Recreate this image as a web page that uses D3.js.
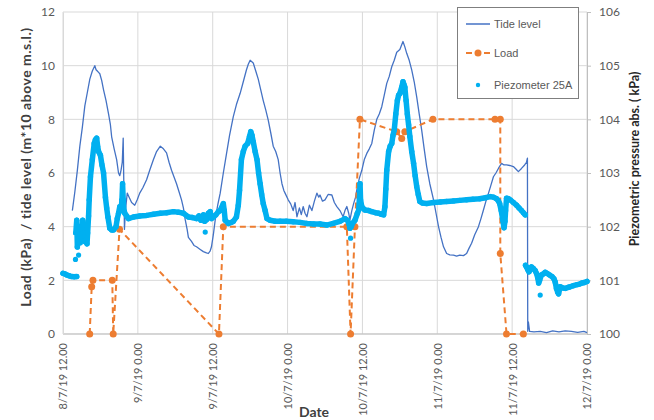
<!DOCTYPE html>
<html>
<head>
<meta charset="utf-8">
<script src="https://cdn.jsdelivr.net/npm/d3@7/dist/d3.min.js"></script>
<style>
  html, body { margin: 0; padding: 0; background: #fff; }
  svg { display: block; }
  text { font-family: Lato, "Liberation Sans", sans-serif; }
</style>
</head>
<body>
<svg id="chart" width="654" height="420"></svg>
<script>
// ---- Data (hours since 8/7/19 12.00) ----
const xTickHours = [0, 12, 24, 36, 48, 60, 72, 84];
const xTickLabels = ["8/7/19 12.00", "9/7/19 0.00", "9/7/19 12.00", "10/7/19 0.00",
                     "10/7/19 12.00", "11/7/19 0.00", "11/7/19 12.00", "12/7/19 0.00"];
const leftTicks = [0, 2, 4, 6, 8, 10, 12];
const rightTicks = [100, 101, 102, 103, 104, 105, 106];

// Tide level (m*10 above m.s.l.), left axis
const tide = [
  [1.5,4.6],[1.9,5.3],[2.3,6.1],[2.7,7.0],[3.1,7.7],[3.5,8.5],[3.9,9.0],[4.3,9.5],[4.7,9.8],
  [5.1,10.0],[5.3,9.85],[5.5,9.8],[5.7,9.75],[5.9,9.7],[6.2,9.45],[6.5,9.1],[6.9,8.7],[7.3,8.2],
  [7.6,7.8],[7.8,7.35],[8.2,6.9],[8.6,6.5],[8.9,6.0],[9.1,5.9],[9.3,6.1],[9.5,6.4],[9.65,7.3],
  [9.75,5.6],[9.85,3.9],[10.0,4.6],[10.3,5.25],[10.6,5.1],[11.0,4.9],[11.5,4.8],[11.9,5.0],
  [12.3,5.25],[12.8,5.45],[13.4,5.75],[13.9,6.1],[14.5,6.5],[15.0,6.8],[15.6,7.0],[16.1,6.9],
  [16.6,6.75],[17.0,6.4],[17.4,6.1],[17.8,5.85],[18.2,5.6],[18.6,5.3],[19.0,5.0],[19.3,4.7],
  [19.6,4.25],[19.9,3.9],[20.1,3.6],[20.6,3.45],[21.0,3.3],[21.4,3.25],[22.0,3.15],[22.5,3.07],
  [23.0,3.02],[23.3,3.0],[23.6,3.1],[23.8,3.25],[24.1,3.7],[24.4,4.25],[24.8,4.8],[25.2,5.25],
  [25.7,6.0],[26.2,6.7],[26.7,7.4],[27.3,8.1],[27.8,8.55],[28.4,8.97],[28.9,9.4],[29.4,9.84],
  [29.7,10.05],[30.0,10.2],[30.5,10.1],[30.9,9.8],[31.3,9.5],[31.7,9.1],[32.1,8.7],[32.5,8.35],
  [32.9,7.97],[33.3,7.5],[33.7,7.0],[34.1,6.8],[34.5,6.5],[34.8,6.0],[35.1,5.6],[35.4,5.35],
  [35.6,5.25],[36.1,5.0],[36.5,4.85],[36.9,4.6],[37.2,4.9],[37.5,4.37],[37.9,4.7],[38.2,4.45],
  [38.5,4.75],[38.8,4.5],[39.1,4.37],[39.5,4.8],[39.9,4.6],[40.3,4.95],[40.7,5.25],[41.0,5.1],
  [41.2,5.18],[41.6,4.95],[42.0,5.0],[42.5,5.2],[43.1,5.18],[43.5,4.9],[43.9,4.75],[44.4,4.6],
  [44.9,4.37],[45.2,4.6],[45.5,4.75],[45.8,4.5],[46.0,4.25],[46.3,4.6],[46.6,4.87],[46.9,5.1],
  [47.1,5.37],[47.5,5.8],[47.9,6.1],[48.3,6.5],[48.7,6.73],[49.1,6.9],[49.5,7.1],[49.9,7.6],
  [50.3,8.0],[50.7,8.2],[51.1,8.47],[51.5,8.9],[51.9,9.34],[52.3,9.6],[52.7,9.96],[53.1,10.2],
  [53.5,10.5],[54.0,10.6],[54.5,10.9],[54.8,10.7],[55.1,10.46],[55.5,10.2],[55.9,9.84],
  [56.3,9.4],[56.7,8.84],[57.1,8.2],[57.5,7.6],[57.9,6.9],[58.3,6.24],[58.8,5.6],[59.4,5.0],
  [59.8,4.5],[60.2,4.0],[60.6,3.6],[61.0,3.25],[61.5,3.0],[62.0,2.95],[62.6,2.94],[63.1,2.9],
  [63.6,2.94],[64.2,2.92],[64.7,3.0],[65.1,3.2],[65.5,3.38],[66.0,3.7],[66.6,4.0],[67.0,4.3],
  [67.4,4.62],[67.8,4.95],[68.2,5.24],[68.6,5.55],[69.0,5.86],[69.4,6.0],[69.8,6.17],[70.3,6.36],
  [70.7,6.3],[71.1,6.3],[71.6,6.28],[72.2,6.24],[72.6,6.15],[73.0,6.05],[73.5,6.17],[74.0,6.3],
  [74.3,6.4],[74.45,6.55],[74.5,0.1],[74.6,0.45],[74.8,0.1],[75.5,0.08],[76.5,0.1],[77.5,0.05],
  [78.5,0.12],[79.5,0.08],[80.5,0.12],[81.5,0.1],[82.5,0.06],[83.5,0.1],[84.0,0.05]
];

// Load (kPa), left axis
const load = [
  [4.28,0],[4.6,1.76],[4.8,2.0],[7.9,2.0],[8.05,0],[9.06,3.9],[25.0,0],[25.7,4.0],[45.5,4.0],
  [46.1,0],[46.8,4.0],[47.6,8.0],[53.5,7.54],[54.3,7.29],[54.8,7.54],[59.3,8.0],[69.25,8.0],
  [70.1,8.0],[70.1,3.0],[71.1,0],[73.8,0]
];

// Piezometer 25A (kPa abs.), right axis
const piezoA = [[0,101.13],[0.3,101.12],[0.6,101.10],[1.0,101.085],[1.4,101.07],[1.8,101.065],[2.2,101.07]];
const piezoB = [
  [2.05,101.88],[2.2,102.12],[2.3,101.62],[2.45,101.95],[2.6,102.0],[2.75,101.7],[2.9,101.82],
  [3.05,101.95],[3.15,102.12],[3.3,101.85],[3.4,101.88],[3.55,101.72],[3.7,101.75],[3.85,101.68],
  [3.95,101.88],[4.1,102.2],[4.2,102.5],[4.4,102.93],[4.7,103.25],[5.0,103.55],[5.2,103.62],
  [5.4,103.65],[5.55,103.5],[5.7,103.4],[6.0,103.33],[6.25,103.15],[6.5,103.0],[6.8,102.55],
  [7.0,102.35],[7.2,102.18],[7.5,101.97],[7.8,101.94],[8.1,101.94],[8.5,102.0],[8.7,102.15],
  [8.9,102.25],[9.1,102.37],[9.3,102.3],[9.45,102.5],[9.55,102.8],[9.65,102.5],[9.7,102.37],
  [9.9,102.25],[10.2,102.2],[10.5,102.15],[11.3,102.18],[12.3,102.2],[13.4,102.21],[14.5,102.23],
  [15.6,102.25],[16.6,102.26],[17.7,102.28],[18.5,102.27],[19.3,102.25],[20.1,102.18],[20.7,102.17],
  [21.4,102.15],[21.8,102.2],[22.1,102.12],[22.5,102.22],[22.7,102.1],[23.0,102.13],[23.3,102.25],
  [23.6,102.28],[23.8,102.15],[24.1,102.18],[24.5,102.22],[24.9,102.28],[25.2,102.3],[25.4,102.35],
  [25.7,102.43],[25.85,102.3],[26.0,102.12],[26.5,102.06],[27.0,102.08],[27.3,102.1],[27.8,102.18],
  [28.1,102.4],[28.3,102.68],[28.6,103.25],[28.9,103.4],[29.2,103.5],[29.6,103.55],[29.9,103.68],
  [30.1,103.77],[30.3,103.7],[30.5,103.58],[30.8,103.4],[31.1,103.25],[31.35,103.0],[31.6,102.8],
  [31.85,102.6],[32.1,102.43],[32.4,102.3],[32.7,102.15],[33.2,102.12],[34.0,102.1],[34.8,102.1],
  [35.8,102.1],[36.9,102.09],[38.0,102.08],[39.1,102.06],[40.2,102.05],[41.2,102.05],[42.3,102.03],
  [43.3,102.06],[44.4,102.1],[45.2,102.15],[45.6,102.12],[45.85,102.05],[46.0,101.97],[46.2,102.0],
  [46.4,102.06],[46.8,102.12],[47.2,102.25],[47.4,102.31],[47.55,102.6],[47.62,102.8],[47.7,102.5],
  [47.9,102.37],[48.4,102.31],[49.0,102.3],[49.5,102.28],[50.1,102.26],[50.6,102.25],[51.0,102.23],
  [51.4,102.22],[51.6,102.37],[51.75,102.7],[51.9,103.05],[52.2,103.4],[52.45,103.5],[52.7,103.55],
  [52.9,103.7],[53.1,103.8],[53.35,104.1],[53.6,104.35],[53.8,104.45],[54.0,104.48],[54.3,104.6],
  [54.5,104.7],[54.65,104.65],[54.8,104.6],[55.0,104.35],[55.2,104.1],[55.4,103.9],[55.6,103.68],
  [55.9,103.4],[56.2,103.18],[56.45,102.95],[56.7,102.75],[56.95,102.6],[57.2,102.47],[57.6,102.44],
  [58.3,102.43],[59.4,102.45],[60.5,102.46],[61.5,102.47],[62.6,102.48],[63.6,102.49],[64.7,102.5],
  [65.7,102.51],[66.8,102.52],[67.7,102.54],[68.5,102.56],[69.0,102.55],[69.5,102.52],[69.8,102.48],
  [70.0,102.43],[70.25,102.3],[70.5,102.12],[70.7,101.98],[70.85,102.1],[70.95,102.3],[71.1,102.53],
  [71.4,102.52],[71.7,102.5],[72.2,102.45],[72.7,102.4],[73.1,102.35],[73.5,102.3],[73.8,102.26],
  [74.1,102.22]
];
const piezoC = [
  [74.15,101.28],[74.3,101.25],[74.5,101.2],[74.7,101.16],[74.9,101.2],[75.1,101.25],[75.4,101.22],
  [75.7,101.18],[75.9,101.13],[76.1,101.05],[76.25,100.95],[76.4,101.0],[76.7,101.1],[77.0,101.12],
  [77.3,101.15],[77.6,101.13],[78.0,101.1],[78.4,101.07],[78.7,101.03],[78.9,100.97],[79.1,100.85],
  [79.3,100.78],[79.45,100.75],[79.7,100.88],[80.1,100.86],[80.5,100.85],[81.0,100.87],[81.3,100.88],
  [81.8,100.9],[82.4,100.92],[82.8,100.93],[83.2,100.95],[83.6,100.96],[84.0,100.98]
];
const piezoSingles = [[2.0,101.39],[2.5,101.47],[22.8,101.90],[46.1,101.785],[76.5,100.725]];

// ---- Layout ----
const svg = d3.select("#chart");
const L = 63, R = 587, T = 12, B = 334;
const x = d3.scaleLinear().domain([0, 84]).range([L, R]);
const yL = d3.scaleLinear().domain([0, 12]).range([B, T]);
const yR = d3.scaleLinear().domain([100, 106]).range([B, T]);

const C_TIDE = "#4472C4", C_LOAD = "#ED7D31", C_PIEZO = "#00B0F0";
const C_TEXT = "#595959", C_GRID = "#D9D9D9";

// gridlines
svg.append("g").selectAll("line.h").data(leftTicks).join("line")
  .attr("x1", L).attr("x2", R).attr("y1", d => yL(d)).attr("y2", d => yL(d))
  .attr("stroke", C_GRID).attr("stroke-width", 1);
svg.append("g").selectAll("line.v").data(xTickHours).join("line")
  .attr("x1", d => x(d)).attr("x2", d => x(d)).attr("y1", T).attr("y2", B)
  .attr("stroke", C_GRID).attr("stroke-width", 1);
// bottom axis line
svg.append("line").attr("x1", L).attr("x2", R).attr("y1", B).attr("y2", B)
  .attr("stroke", "#BFBFBF").attr("stroke-width", 1);

// left axis
const gL = svg.append("g").attr("transform", `translate(${L},0)`)
  .call(d3.axisLeft(yL).tickValues(leftTicks).tickSize(0).tickPadding(8));
gL.select(".domain").attr("stroke", C_GRID);
gL.selectAll("text").attr("fill", C_TEXT).style("font-size", "12px");

// right axis
const gR = svg.append("g").attr("transform", `translate(${R},0)`)
  .call(d3.axisRight(yR).tickValues(rightTicks).tickSize(4).tickPadding(8).tickFormat(d3.format("d")));
gR.select(".domain").attr("stroke", "#BFBFBF");
gR.selectAll(".tick line").attr("stroke", "#BFBFBF");
gR.selectAll("text").attr("fill", C_TEXT).style("font-size", "12px");

// bottom axis labels (rotated)
const gX = svg.append("g").attr("transform", `translate(0,${B})`)
  .call(d3.axisBottom(x).tickValues(xTickHours).tickSize(0).tickFormat((d, i) => xTickLabels[i]));
gX.select(".domain").remove();
gX.selectAll("text")
  .attr("fill", C_TEXT).style("font-size", "11px")
  .attr("text-anchor", "end")
  .attr("transform", "rotate(-90)")
  .attr("x", -9).attr("y", 0).attr("dy", "0.35em");

// axis titles
svg.append("text").attr("transform", `translate(25,167) rotate(-90)`)
  .attr("text-anchor", "middle").attr("dominant-baseline", "central")
  .style("white-space", "pre").style("font-size", "14px").style("font-weight", "bold")
  .style("letter-spacing", "0.5px")
  .attr("fill", "#404040").text("Load (kPa)  / tide level (m*10 above m.s.l.)");
svg.append("text").attr("transform", `translate(634,159) rotate(-90)`)
  .attr("text-anchor", "middle").attr("dominant-baseline", "central")
  .style("font-size", "12.5px").style("font-weight", "bold")
  .attr("fill", "#262626").text("Piezometric pressure abs. ( kPa)");
svg.append("text").attr("x", 314).attr("y", 417).attr("text-anchor", "middle")
  .style("font-size", "14px").style("font-weight", "bold")
  .attr("fill", "#404040").text("Date");

// ---- Series ----
const leftLine = d3.line().x(d => x(d[0])).y(d => yL(d[1]));
svg.append("path").datum(tide).attr("d", leftLine)
  .attr("fill", "none").attr("stroke", C_TIDE).attr("stroke-width", 1.3).attr("stroke-linejoin", "round");

svg.append("path").datum(load).attr("d", leftLine)
  .attr("fill", "none").attr("stroke", C_LOAD).attr("stroke-width", 2)
  .attr("stroke-dasharray", "6,4");
svg.append("g").selectAll("circle").data(load).join("circle")
  .attr("cx", d => x(d[0])).attr("cy", d => yL(d[1])).attr("r", 3.5).attr("fill", C_LOAD);

const piezoLine = d3.line().x(d => x(d[0])).y(d => yR(d[1]));
[piezoA, piezoB, piezoC].forEach(seg => {
  svg.append("path").datum(seg).attr("d", piezoLine)
    .attr("fill", "none").attr("stroke", C_PIEZO).attr("stroke-width", 5.5)
    .attr("stroke-linejoin", "round").attr("stroke-linecap", "round");
  svg.append("g").selectAll("circle").data(seg).join("circle")
    .attr("cx", d => x(d[0])).attr("cy", d => yR(d[1])).attr("r", 2.7).attr("fill", C_PIEZO);
});
svg.append("g").selectAll("circle").data(piezoSingles).join("circle")
  .attr("cx", d => x(d[0])).attr("cy", d => yR(d[1])).attr("r", 2.6).attr("fill", C_PIEZO);

// ---- Legend ----
const lg = svg.append("g");
lg.append("rect").attr("x", 457.5).attr("y", 7.5).attr("width", 121).attr("height", 91)
  .attr("fill", "#fff").attr("stroke", "#7F7F7F").attr("stroke-width", 1);
lg.append("line").attr("x1", 466).attr("x2", 490).attr("y1", 24).attr("y2", 24)
  .attr("stroke", C_TIDE).attr("stroke-width", 1.5);
lg.append("line").attr("x1", 466).attr("x2", 490).attr("y1", 53).attr("y2", 53)
  .attr("stroke", C_LOAD).attr("stroke-width", 2).attr("stroke-dasharray", "6,3");
lg.append("circle").attr("cx", 478).attr("cy", 53).attr("r", 3.5).attr("fill", C_LOAD);
lg.append("circle").attr("cx", 478).attr("cy", 85).attr("r", 2.2).attr("fill", C_PIEZO);
const legendItems = [["Tide level", 24], ["Load", 53], ["Piezometer 25A", 85]];
lg.selectAll("text").data(legendItems).join("text")
  .attr("x", 494).attr("y", d => d[1]).attr("dominant-baseline", "central")
  .style("font-family", "'Liberation Sans', Arial, sans-serif").style("font-size", "11px")
  .attr("fill", C_TEXT).text(d => d[0]);
</script>
</body>
</html>
